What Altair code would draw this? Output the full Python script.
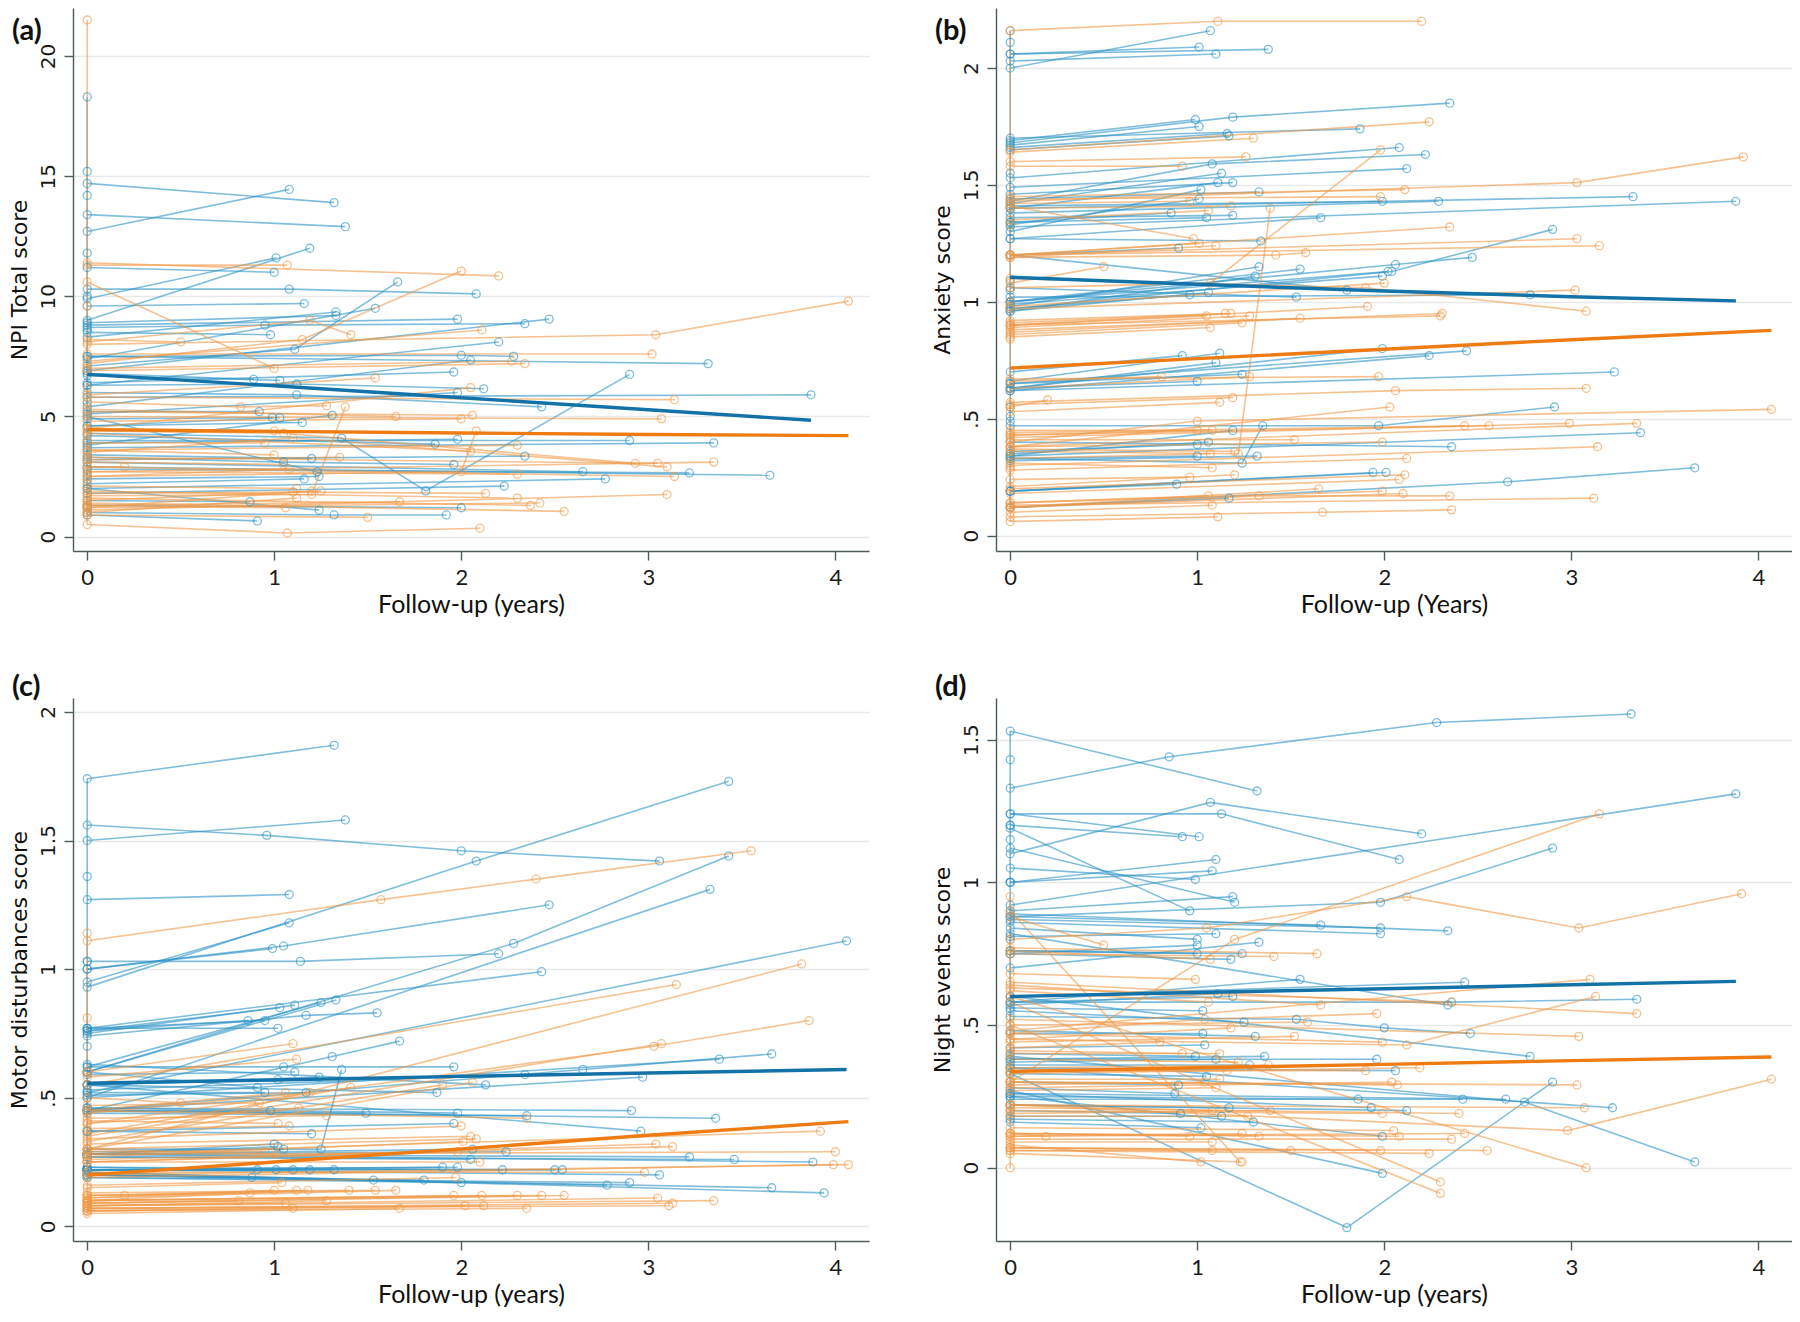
import altair as alt
import pandas as pd

# ---------------- data: each trajectory = [baseline, t1, y1, t2, y2, ...] ----------------
A_BLUE = [
    [14.7, 1.32, 13.9], [12.7, 1.08, 14.45], [13.4, 1.38, 12.9], [11.2, 1.0, 11.0],
    [9.9, 1.01, 11.6], [9.0, 1.19, 12.0], [10.3, 1.08, 10.3, 2.08, 10.1],
    [7.1, 1.11, 7.8, 1.66, 10.6], [9.6, 1.16, 9.7], [8.3, 1.33, 9.35], [8.9, 1.33, 9.2],
    [7.4, 1.54, 9.5], [8.8, 1.98, 9.05], [6.9, 2.47, 9.05], [8.7, 0.95, 8.8, 2.34, 8.86],
    [8.5, 0.98, 8.4], [6.3, 2.2, 8.1], [7.5, 3.32, 7.2], [7.5, 2.0, 7.55, 2.28, 7.5],
    [5.4, 2.05, 7.35], [6.4, 1.96, 6.85], [6.7, 1.03, 6.5], [6.8, 0.89, 6.55],
    [6.3, 1.12, 6.35, 2.12, 6.15], [5.1, 1.98, 6.0], [5.8, 3.87, 5.9],
    [4.3, 1.36, 4.1, 1.81, 1.9, 2.9, 6.75], [6.0, 1.12, 5.9, 2.43, 5.4], [5.2, 0.92, 5.2],
    [4.9, 0.99, 4.95], [4.6, 1.03, 4.95], [4.6, 1.15, 4.75], [3.8, 1.31, 5.05],
    [4.0, 2.9, 4.0], [3.7, 3.35, 3.9], [4.2, 1.86, 3.85], [3.9, 1.98, 4.05],
    [3.2, 2.34, 3.35], [3.1, 2.65, 2.7], [2.8, 3.22, 2.65], [2.9, 3.65, 2.55],
    [2.0, 2.77, 2.4], [3.4, 1.2, 3.25], [3.3, 1.05, 3.1, 1.96, 3.0], [5.0, 1.23, 2.7],
    [2.4, 1.24, 2.5], [2.2, 1.16, 2.4], [1.8, 2.23, 2.1], [1.5, 0.87, 1.45],
    [2.0, 1.24, 1.1], [1.3, 2.0, 1.2], [1.0, 1.32, 0.9, 1.92, 0.9], [0.9, 0.91, 0.65],
    [18.3], [15.2], [14.2], [11.8], [10.0], [8.6], [6.9], [5.6], [3.6], [2.6], [1.2],
]
A_ORANGE = [
    [21.5], [11.4, 2.2, 10.85], [11.3, 1.07, 11.3], [7.2, 1.15, 8.2, 2.0, 11.05],
    [8.0, 3.04, 8.4, 4.07, 9.8], [10.6, 1.0, 7.0], [8.1, 1.19, 9.0, 1.41, 8.4],
    [7.3, 2.11, 8.6], [7.6, 3.02, 7.6], [7.0, 2.27, 7.3], [6.9, 2.34, 7.2],
    [5.8, 3.14, 5.7], [5.3, 1.65, 5.0], [5.2, 2.06, 5.05], [4.8, 2.0, 4.9],
    [5.0, 3.07, 4.9], [4.5, 2.05, 6.2], [5.9, 1.54, 6.6], [8.2, 0.5, 8.1],
    [5.6, 0.82, 5.4, 1.28, 5.45], [1.7, 1.2, 1.75, 1.38, 5.4], [2.5, 2.0, 2.7, 2.08, 4.4],
    [3.6, 2.3, 3.8], [4.3, 2.05, 3.55], [4.4, 1.05, 4.3, 2.93, 3.05], [3.3, 3.05, 3.05],
    [3.5, 1.1, 4.1, 3.1, 2.9], [2.7, 3.35, 3.1], [2.9, 3.14, 2.5], [2.7, 2.3, 2.6],
    [2.1, 1.12, 2.0], [1.5, 1.25, 1.9], [1.2, 1.2, 1.9], [1.8, 1.1, 1.85, 2.13, 1.8],
    [1.1, 3.1, 1.75], [1.9, 2.3, 1.6], [1.3, 1.67, 1.45], [1.6, 2.37, 1.3],
    [1.2, 2.42, 1.4], [1.4, 2.55, 1.05], [0.9, 1.5, 0.8], [0.5, 1.07, 0.15, 2.1, 0.35],
    [2.9, 0.2, 2.9], [3.6, 1.0, 3.4], [3.1, 1.05, 3.0], [2.5, 1.08, 2.8], [4.5, 1.0, 4.4],
    [3.9, 0.95, 3.9], [1.0, 1.12, 1.6], [1.3, 1.06, 1.2], [3.2, 1.35, 3.3],
    [9.6], [6.2], [4.0], [2.3], [0.9],
]
B_BLUE = [
    [2.0, 1.07, 2.16], [2.06, 1.01, 2.09], [2.06, 1.38, 2.08], [2.03, 1.1, 2.06],
    [1.68, 1.19, 1.79, 2.35, 1.85], [1.69, 0.99, 1.78], [1.67, 1.01, 1.75],
    [1.66, 1.16, 1.72], [1.65, 1.17, 1.71], [1.7, 1.87, 1.74], [1.53, 2.08, 1.66],
    [1.43, 1.08, 1.59, 2.22, 1.63], [1.49, 2.12, 1.57], [1.42, 1.13, 1.55],
    [1.4, 1.11, 1.51], [1.46, 1.19, 1.51], [1.44, 1.33, 1.47], [1.3, 1.02, 1.48],
    [1.33, 1.01, 1.44], [1.4, 3.33, 1.45], [1.32, 3.88, 1.43], [1.41, 1.99, 1.43],
    [1.38, 2.29, 1.43], [1.34, 0.86, 1.38], [1.34, 1.05, 1.36], [1.36, 1.19, 1.37],
    [1.27, 1.66, 1.36], [0.97, 2.04, 1.13, 2.9, 1.31], [1.27, 1.34, 1.26],
    [1.2, 0.9, 1.23], [1.0, 2.06, 1.16, 2.47, 1.19], [0.98, 1.33, 1.15], [1.0, 1.55, 1.14],
    [0.96, 1.31, 1.11], [0.99, 1.99, 1.11], [1.0, 2.02, 1.13], [1.2, 1.8, 1.05],
    [1.02, 2.78, 1.03], [0.97, 0.96, 1.03], [0.96, 1.06, 1.04], [1.06, 1.53, 1.02],
    [0.63, 1.99, 0.8], [0.65, 2.44, 0.79], [0.7, 0.92, 0.77], [0.66, 1.12, 0.78],
    [0.63, 1.1, 0.74], [0.62, 2.24, 0.77], [0.62, 3.23, 0.7], [0.63, 1.0, 0.66],
    [0.65, 1.24, 0.69], [0.47, 1.97, 0.47, 2.91, 0.55], [0.34, 3.37, 0.44],
    [0.33, 1.24, 0.31, 1.35, 0.47], [0.34, 1.19, 0.45], [0.36, 1.0, 0.39],
    [0.35, 1.06, 0.4], [0.4, 2.36, 0.38], [0.33, 1.0, 0.34], [0.32, 1.32, 0.34],
    [0.19, 1.94, 0.27], [0.19, 2.01, 0.27], [0.19, 0.89, 0.22],
    [0.12, 2.66, 0.23, 3.66, 0.29], [0.12, 1.17, 0.16],
    [2.16], [2.11], [1.55], [1.09], [1.05], [0.55], [0.49], [0.51],
]
B_ORANGE = [
    [2.16, 1.11, 2.2, 2.2, 2.2], [1.65, 2.24, 1.77], [1.64, 1.3, 1.7], [1.6, 1.26, 1.62],
    [1.58, 0.92, 1.58], [1.06, 1.07, 1.08, 1.98, 1.65], [1.43, 3.03, 1.51, 3.92, 1.62],
    [1.45, 2.11, 1.48], [1.44, 1.98, 1.45], [1.42, 0.96, 1.43], [1.35, 1.06, 1.39],
    [1.4, 1.18, 1.41], [0.36, 1.22, 0.35, 1.39, 1.4], [1.2, 2.35, 1.32],
    [1.2, 3.03, 1.27], [1.2, 3.15, 1.24], [1.41, 0.98, 1.27], [1.2, 1.01, 1.25],
    [1.19, 1.1, 1.24], [1.19, 1.42, 1.2, 1.58, 1.21], [1.08, 0.5, 1.15],
    [0.98, 2.0, 1.08], [0.97, 3.02, 1.05], [1.1, 1.9, 1.06, 3.08, 0.96],
    [0.9, 1.91, 0.98], [0.9, 1.05, 0.94], [0.92, 1.15, 0.95], [0.91, 1.18, 0.95],
    [0.89, 1.28, 0.94], [0.9, 2.3, 0.94], [0.88, 2.31, 0.95], [0.87, 1.55, 0.93],
    [0.85, 1.07, 0.89], [0.86, 1.24, 0.91], [0.66, 0.81, 0.68], [0.63, 1.28, 0.68],
    [0.67, 1.97, 0.68], [0.57, 2.06, 0.62, 3.08, 0.63], [0.55, 0.2, 0.58],
    [0.53, 1.12, 0.57], [0.56, 1.19, 0.59], [0.38, 2.03, 0.55],
    [0.4, 1.0, 0.49, 4.07, 0.54], [0.44, 2.43, 0.47], [0.43, 2.56, 0.47],
    [0.42, 2.99, 0.48], [0.38, 3.35, 0.48], [0.43, 1.0, 0.45], [0.45, 1.08, 0.45],
    [0.41, 1.52, 0.41], [0.38, 1.99, 0.4], [0.3, 3.14, 0.38], [0.37, 1.2, 0.36],
    [0.33, 1.07, 0.35], [0.31, 1.08, 0.29], [0.28, 2.12, 0.33], [0.24, 0.96, 0.25],
    [0.21, 1.2, 0.26], [0.2, 2.11, 0.26], [0.18, 2.08, 0.24], [0.12, 1.65, 0.2],
    [0.14, 1.99, 0.19], [0.12, 2.1, 0.18], [0.12, 1.33, 0.17, 2.35, 0.17],
    [0.14, 1.06, 0.17], [0.1, 1.08, 0.13], [0.13, 3.12, 0.16],
    [0.08, 1.67, 0.1, 2.36, 0.11], [0.06, 1.11, 0.08],
    [1.33], [1.0], [0.84], [0.29],
]
C_BLUE = [
    [1.74, 1.32, 1.87], [1.5, 1.38, 1.58], [1.56, 0.96, 1.52, 2.0, 1.46, 3.06, 1.42],
    [0.93, 2.08, 1.42, 3.43, 1.73], [0.6, 2.28, 1.1, 3.43, 1.44], [0.5, 3.33, 1.31],
    [1.27, 1.08, 1.29], [0.95, 1.08, 1.18], [1.0, 1.05, 1.09, 2.47, 1.25],
    [1.0, 0.99, 1.08], [1.03, 1.14, 1.03, 2.2, 1.06], [0.52, 4.06, 1.11],
    [0.77, 2.43, 0.99], [0.76, 1.03, 0.85], [0.75, 1.11, 0.86], [0.62, 1.25, 0.87],
    [0.6, 1.33, 0.88], [0.76, 0.86, 0.8], [0.77, 0.95, 0.8], [0.74, 1.17, 0.82, 1.55, 0.83],
    [0.77, 1.02, 0.77], [0.45, 1.31, 0.66, 1.67, 0.72], [0.5, 3.38, 0.65],
    [0.45, 2.65, 0.61, 3.66, 0.67], [0.62, 1.05, 0.62, 1.96, 0.62], [0.59, 1.11, 0.6],
    [0.55, 1.24, 0.58], [0.3, 1.25, 0.3, 1.36, 0.61], [0.55, 1.02, 0.57],
    [0.53, 2.34, 0.59], [0.45, 2.97, 0.58], [0.63, 2.13, 0.55], [0.6, 0.91, 0.54],
    [0.52, 0.95, 0.52], [0.51, 1.17, 0.52], [0.55, 1.87, 0.52], [0.45, 0.98, 0.45],
    [0.45, 1.49, 0.44], [0.46, 1.98, 0.44], [0.44, 2.35, 0.43], [0.46, 2.91, 0.45],
    [0.45, 3.36, 0.42], [0.37, 1.96, 0.4], [0.55, 2.96, 0.37], [0.37, 1.2, 0.36],
    [0.28, 1.0, 0.32], [0.28, 1.02, 0.31], [0.29, 1.05, 0.3], [0.28, 2.06, 0.3],
    [0.28, 2.24, 0.29], [0.27, 2.05, 0.26], [0.28, 3.22, 0.27], [0.27, 3.46, 0.26],
    [0.28, 3.88, 0.25], [0.22, 0.91, 0.22], [0.23, 1.01, 0.22], [0.22, 1.1, 0.22],
    [0.22, 1.19, 0.22], [0.22, 1.32, 0.22], [0.22, 1.9, 0.23], [0.22, 1.98, 0.23],
    [0.22, 2.22, 0.22], [0.23, 2.5, 0.22], [0.22, 2.54, 0.22], [0.22, 3.06, 0.2],
    [0.2, 0.88, 0.19], [0.21, 1.53, 0.18], [0.2, 1.8, 0.18], [0.19, 2.0, 0.17],
    [0.2, 2.78, 0.16], [0.19, 2.9, 0.17], [0.2, 3.66, 0.15], [0.21, 3.94, 0.13],
    [1.36], [1.03], [0.7], [0.37],
]
C_ORANGE = [
    [1.11, 1.57, 1.27, 2.4, 1.35, 3.55, 1.46], [1.14], [0.3, 3.82, 1.02],
    [0.55, 3.15, 0.94], [0.4, 3.03, 0.7, 3.86, 0.8], [0.35, 3.07, 0.71],
    [0.6, 1.1, 0.71], [0.58, 1.12, 0.65], [0.5, 0.5, 0.48], [0.47, 0.92, 0.48],
    [0.45, 1.06, 0.52], [0.44, 1.19, 0.52], [0.36, 1.41, 0.54], [0.33, 1.9, 0.55],
    [0.3, 2.06, 0.56], [0.4, 1.13, 0.46], [0.41, 1.02, 0.4], [0.38, 1.08, 0.39],
    [0.34, 2.0, 0.39], [0.42, 1.28, 0.43], [0.45, 2.35, 0.42], [0.28, 3.92, 0.37],
    [0.32, 2.05, 0.35], [0.3, 2.08, 0.34], [0.27, 2.01, 0.33], [0.25, 3.04, 0.32],
    [0.26, 3.13, 0.31], [0.28, 4.0, 0.29], [0.19, 3.99, 0.24], [0.2, 4.07, 0.24],
    [0.21, 2.98, 0.21], [0.29, 0.95, 0.29], [0.3, 1.01, 0.28], [0.25, 2.1, 0.25],
    [0.25, 1.98, 0.29], [0.16, 1.97, 0.19], [0.15, 1.04, 0.17],
    [0.12, 0.2, 0.12, 0.87, 0.13], [0.11, 1.0, 0.14], [0.12, 1.12, 0.14],
    [0.1, 1.18, 0.14], [0.13, 1.4, 0.14], [0.12, 1.54, 0.14], [0.11, 1.65, 0.14],
    [0.1, 1.96, 0.12], [0.1, 2.11, 0.12], [0.09, 2.3, 0.12], [0.1, 2.43, 0.12],
    [0.09, 2.55, 0.12], [0.08, 3.05, 0.11], [0.09, 0.81, 0.1], [0.08, 1.06, 0.09],
    [0.08, 1.28, 0.1], [0.07, 3.13, 0.09], [0.08, 3.35, 0.1], [0.07, 3.11, 0.08],
    [0.07, 2.02, 0.08], [0.06, 2.12, 0.08], [0.06, 2.35, 0.07], [0.06, 1.1, 0.07],
    [0.05, 1.67, 0.07], [0.81], [0.6],
]
D_BLUE = [
    [1.33, 0.85, 1.44, 2.28, 1.56, 3.32, 1.59], [1.53, 1.32, 1.32],
    [0.88, 1.98, 0.93, 2.9, 1.12], [0.92, 3.88, 1.31], [1.1, 1.07, 1.28, 2.2, 1.17],
    [1.24, 1.13, 1.24, 2.08, 1.08], [1.2, 0.92, 1.16], [1.24, 1.01, 1.16],
    [1.0, 1.1, 1.08], [1.0, 1.08, 1.04], [1.05, 0.99, 1.01], [0.9, 1.19, 0.95],
    [1.12, 1.2, 0.93], [1.19, 0.96, 0.9], [0.88, 1.66, 0.85], [0.87, 1.98, 0.84],
    [0.86, 1.98, 0.82], [0.89, 2.34, 0.83], [0.84, 1.0, 0.8], [0.75, 1.0, 0.78],
    [0.81, 1.1, 0.82], [0.7, 1.33, 0.79], [0.76, 1.0, 0.75], [0.75, 1.18, 0.73],
    [0.76, 1.24, 0.75], [0.58, 1.55, 0.66], [0.82, 2.34, 0.57], [0.6, 2.43, 0.65],
    [0.58, 2.36, 0.58, 3.35, 0.59], [0.57, 1.11, 0.61], [0.58, 1.19, 0.6],
    [0.56, 1.03, 0.55], [0.53, 1.53, 0.52, 2.0, 0.49, 2.46, 0.47], [0.55, 1.25, 0.51],
    [0.47, 1.03, 0.47], [0.42, 1.04, 0.43], [0.48, 1.31, 0.46], [0.6, 2.78, 0.39],
    [0.4, 0.99, 0.39], [0.38, 1.36, 0.39], [0.38, 1.96, 0.38], [0.37, 1.1, 0.38],
    [0.36, 1.28, 0.36], [0.35, 2.06, 0.34], [0.33, 1.05, 0.32], [0.3, 0.9, 0.29],
    [0.28, 0.88, 0.26], [0.33, 1.8, -0.21, 2.9, 0.3], [0.25, 1.86, 0.24],
    [0.24, 2.42, 0.24], [0.26, 2.65, 0.24], [0.26, 1.93, 0.21], [0.22, 2.12, 0.2],
    [0.35, 3.22, 0.21], [0.22, 1.17, 0.21], [0.2, 0.91, 0.19], [0.16, 1.02, 0.14],
    [0.18, 1.13, 0.18], [0.17, 1.3, 0.16], [0.25, 1.99, 0.11], [0.27, 1.99, -0.02],
    [0.39, 2.75, 0.23, 3.66, 0.02],
    [1.43], [1.2], [1.15], [1.0], [0.8],
]
D_ORANGE = [
    [0.3, 1.2, 0.8, 3.15, 1.24], [0.8, 1.05, 0.84, 2.12, 0.95, 3.04, 0.84, 3.91, 0.96],
    [0.58, 2.3, -0.05], [0.5, 2.3, -0.09], [0.9, 1.23, 0.02], [0.88, 0.5, 0.78],
    [0.76, 1.07, 0.73], [0.75, 1.41, 0.74], [0.77, 1.64, 0.75], [0.68, 0.99, 0.66],
    [0.62, 1.06, 0.58], [0.64, 1.66, 0.57], [0.63, 2.36, 0.58],
    [0.45, 2.12, 0.43, 3.13, 0.6], [0.48, 3.1, 0.66], [0.65, 3.35, 0.54],
    [0.47, 1.04, 0.52, 1.96, 0.54], [0.5, 1.59, 0.51], [0.44, 1.52, 0.46],
    [0.45, 1.18, 0.49], [0.42, 0.8, 0.44], [0.47, 1.99, 0.44], [0.52, 3.04, 0.46],
    [0.41, 0.92, 0.4], [0.4, 1.12, 0.4], [0.38, 1.22, 0.37], [0.35, 1.38, 0.36],
    [0.34, 1.9, 0.34], [0.33, 2.19, 0.35], [0.34, 1.16, 0.34], [0.29, 1.04, 0.3],
    [0.31, 1.12, 0.31], [0.28, 2.04, 0.3], [0.3, 2.07, 0.29], [0.3, 3.03, 0.29],
    [0.22, 2.98, 0.13, 4.07, 0.31], [0.27, 1.1, 0.28], [0.22, 1.08, 0.2],
    [0.2, 1.99, 0.19], [0.21, 2.4, 0.19], [0.22, 3.07, 0.21], [0.19, 1.39, 0.2],
    [0.18, 1.27, 0.18], [0.12, 0.19, 0.11], [0.12, 0.96, 0.11], [0.11, 1.24, 0.12],
    [0.12, 1.33, 0.11], [0.14, 2.05, 0.13], [0.12, 2.08, 0.11], [0.1, 2.36, 0.1],
    [0.11, 2.43, 0.12], [0.09, 1.08, 0.09], [0.07, 1.08, 0.06], [0.06, 1.5, 0.06],
    [0.07, 1.98, 0.06], [0.06, 2.24, 0.05], [0.07, 2.55, 0.06], [0.08, 1.02, 0.02],
    [0.05, 1.24, 0.02], [0.6, 3.08, 0.0], [0.0], [0.95],
]

# fitted group means: (t, y)
A_MEAN_BLUE = [(0, 6.75), (1, 6.28), (2, 5.78), (3, 5.28), (3.87, 4.84)]
A_MEAN_ORANGE = [(0, 4.45), (1, 4.38), (2, 4.31), (3, 4.25), (4.07, 4.2)]
B_MEAN_BLUE = [(0, 1.105), (1, 1.075), (2, 1.046), (3, 1.022), (3.88, 1.004)]
B_MEAN_ORANGE = [(0, 0.717), (1, 0.757), (2, 0.797), (3, 0.838), (4.07, 0.878)]
C_MEAN_BLUE = [(0, 0.556), (1, 0.569), (2, 0.583), (3, 0.596), (4.06, 0.61)]
C_MEAN_ORANGE = [(0, 0.199), (1, 0.25), (2, 0.301), (3, 0.354), (4.07, 0.407)]
D_MEAN_BLUE = [(0, 0.6), (1, 0.614), (2, 0.627), (3, 0.641), (3.88, 0.653)]
D_MEAN_ORANGE = [(0, 0.337), (1, 0.35), (2, 0.362), (3, 0.375), (4.07, 0.388)]

Y_TITLES = ["NPI Total score", "Anxiety score", "Motor disturbances score", "Night events score"]
X_TITLES = ["Follow-up (years)", "Follow-up (Years)", "Follow-up (years)", "Follow-up (years)"]
TAGS = ["(a)", "(b)", "(c)", "(d)"]
Y_DOMAINS = [[-0.6, 22.0], [-0.066, 2.257], [-0.057, 2.054], [-0.257, 1.646]]
Y_TICKS = [[0, 5, 10, 15, 20], [0, 0.5, 1, 1.5, 2], [0, 0.5, 1, 1.5, 2], [0, 0.5, 1, 1.5]]
X_TICKS = [0, 1, 2, 3, 4]

# ---------------- assembly ----------------
def traj_rows(trajs, grp):
    lines, pts = [], []
    for i, tr in enumerate(trajs):
        seq = [(0.0, tr[0])] + [(tr[j], tr[j + 1]) for j in range(1, len(tr) - 1, 2)]
        for k, (t, y) in enumerate(seq):
            row = dict(sid=f"{grp}{i}", grp=grp, t=t, y=y, k=k)
            lines.append(row)
            pts.append(row)
    # Stata-style connection of all baseline observations at t = 0
    base = sorted(tr[0] for tr in trajs)
    for k, y in enumerate(base):
        lines.append(dict(sid=f"base_{grp}", grp=grp, t=0.0, y=y, k=k))
    return lines, pts


def mean_rows(pairs, grp):
    return [dict(sid=grp, grp=grp, t=t, y=y, k=k) for k, (t, y) in enumerate(pairs)]


COLOR = alt.Color(
    "grp:N",
    scale=alt.Scale(domain=["blue", "orange", "mblue", "morange"],
                    range=["#2b93c4", "#f09a48", "#1372a7", "#ef7b13"]),
    legend=None,
)

W, H = 796, 543


def panel(i, blue, orange, mblue, morange, tag_dy):
    lb, pb = traj_rows(blue, "blue")
    lo, po = traj_rows(orange, "orange")
    df_lines = pd.DataFrame(lb + lo)
    df_pts = pd.DataFrame(pb + po)
    df_mean = pd.DataFrame(mean_rows(mblue, "mblue") + mean_rows(morange, "morange"))

    x = alt.X("t:Q", scale=alt.Scale(domain=[-0.076, 4.18], nice=False, zero=False),
              axis=alt.Axis(values=X_TICKS, title=X_TITLES[i], grid=False, format="d"))
    y = alt.Y("y:Q", scale=alt.Scale(domain=Y_DOMAINS[i], nice=False, zero=False),
              axis=alt.Axis(values=Y_TICKS[i], title=Y_TITLES[i], grid=True,
                            labelExpr="replace(format(datum.value, '~g'), '0.', '.')",
                            labelAngle=-90, labelAlign="center", labelBaseline="bottom"))

    lines = alt.Chart(df_lines).mark_line(strokeWidth=1.6, opacity=0.6).encode(
        x=x, y=y, color=COLOR, detail="sid:N", order="k:Q")
    points = alt.Chart(df_pts).mark_point(filled=False, size=64, strokeWidth=1.3, opacity=0.6).encode(
        x=x, y=y, color=COLOR)
    means = alt.Chart(df_mean).mark_line(strokeWidth=3.4).encode(
        x=x, y=y, color=COLOR, detail="sid:N", order="k:Q")
    tag = alt.Chart(pd.DataFrame({"lab": [TAGS[i]]})).mark_text(
        font="Lato", fontSize=29, fontWeight="bold", align="left", baseline="middle", color="#111"
    ).encode(x=alt.value(-61), y=alt.value(tag_dy), text="lab:N")

    return alt.layer(lines, points, means, tag).properties(width=W, height=H)


pa = panel(0, A_BLUE, A_ORANGE, A_MEAN_BLUE, A_MEAN_ORANGE, 23)
pb = panel(1, B_BLUE, B_ORANGE, B_MEAN_BLUE, B_MEAN_ORANGE, 23)
pc = panel(2, C_BLUE, C_ORANGE, C_MEAN_BLUE, C_MEAN_ORANGE, -11)
pd_ = panel(3, D_BLUE, D_ORANGE, D_MEAN_BLUE, D_MEAN_ORANGE, -11)

chart = alt.vconcat(
    alt.hconcat(pa, pb, spacing=62),
    alt.hconcat(pc, pd_, spacing=62),
    spacing=56,
).properties(padding=0).configure_view(stroke=None).configure_axis(
    domainColor="#4d5b5b", domainWidth=1.4, tickColor="#4d5b5b", tickWidth=1.4, tickSize=9,
    gridColor="#e9e9e9", gridWidth=1.5, labelColor="#1a1a1a", titleColor="#111",
    titleFontWeight="normal",
).configure_axisX(
    labelFont="Lato", labelFontSize=22, titleFont="Lato", titleFontSize=25,
    labelPadding=7, titlePadding=4,
).configure_axisY(
    labelFont="DejaVu Sans", labelFontSize=20, titleFont="DejaVu Sans", titleFontSize=22,
    labelPadding=6, titlePadding=7,
)

chart.save("out.html", embed_options={"renderer": "svg", "actions": False})
